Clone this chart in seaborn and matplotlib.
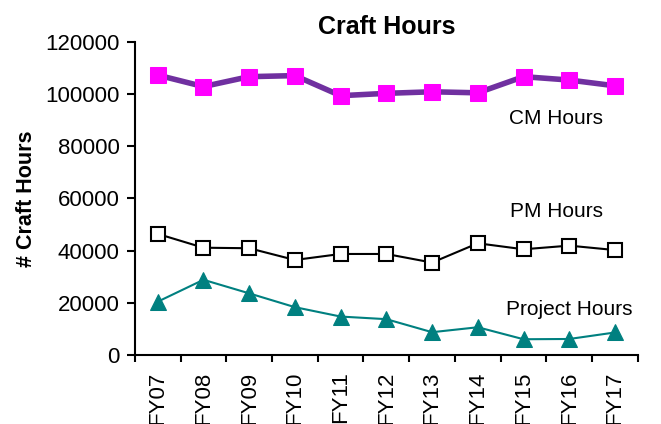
import numpy as np
import pandas as pd
import seaborn as sns
import matplotlib.pyplot as plt
from matplotlib.ticker import FixedLocator

# Dados
years = ["FY07", "FY08", "FY09", "FY10", "FY11", "FY12", "FY13", "FY14", "FY15", "FY16", "FY17"]
cm_hours = [107300, 102900, 106700, 107100, 99400, 100300, 100900, 100500, 106700, 105400, 103200]
pm_hours = [46400, 41100, 40900, 36400, 38700, 38700, 35400, 42800, 40500, 41900, 40200]
project_hours = [20400, 28800, 23600, 18300, 14700, 13700, 8700, 10600, 6000, 6100, 8600]

df = pd.DataFrame({"pos": np.arange(len(years)), "year": years,
                   "CM": cm_hours, "PM": pm_hours, "Project": project_hours})

sns.set_theme(style="white")
plt.rcParams['font.family'] = ['Liberation Sans', 'DejaVu Sans']
plt.rcParams['text.color'] = 'black'
plt.rcParams['axes.labelcolor'] = 'black'
plt.rcParams['xtick.color'] = 'black'
plt.rcParams['ytick.color'] = 'black'

fig = plt.figure(figsize=(6.61, 4.24), dpi=100)
ax = fig.add_axes([0.204, 0.163, 0.761, 0.738])

# Linhas das três séries
sns.lineplot(data=df, x="pos", y="CM", ax=ax, color="#7030A0", linewidth=4,
             marker="s", markersize=11, markerfacecolor="#FF00FF", markeredgecolor="#FF00FF")
sns.lineplot(data=df, x="pos", y="PM", ax=ax, color="black", linewidth=1.5,
             marker="s", markersize=10, markerfacecolor="white", markeredgecolor="black",
             markeredgewidth=1.5)
sns.lineplot(data=df, x="pos", y="Project", ax=ax, color="#008080", linewidth=1.5,
             marker="^", markersize=11, markerfacecolor="#008080", markeredgecolor="#008080")

# Rótulos das séries
ax.text(8.72, 90500, "CM Hours", fontsize=15, ha="center", va="center")
ax.text(8.72, 55000, "PM Hours", fontsize=15, ha="center", va="center")
ax.text(9.0, 17500, "Project Hours", fontsize=15, ha="center", va="center")

ax.set_xlim(-0.5, len(years) - 0.5)
ax.set_ylim(0, 120000)
ax.set_yticks(np.arange(0, 120001, 20000))
ax.set_xticks(df["pos"])
ax.set_xticklabels(years, rotation=90, fontsize=16)
ax.xaxis.set_minor_locator(FixedLocator(np.arange(-0.5, len(years), 1)))
ax.tick_params(axis="x", which="major", length=0, pad=12)
ax.tick_params(axis="x", which="minor", length=5, width=1.5, direction="out", bottom=True)
ax.tick_params(axis="y", length=6, width=1.5, direction="out", left=True, labelsize=16, pad=5)

ax.set_xlabel("")
ax.set_ylabel("# Craft Hours", fontsize=15.5, fontweight="bold", labelpad=6)
ax.set_title("Craft Hours", fontsize=18, fontweight="bold", pad=6)

for side in ["top", "right"]:
    ax.spines[side].set_visible(False)
for side in ["left", "bottom"]:
    ax.spines[side].set_color("black")
    ax.spines[side].set_linewidth(1.5)

fig.savefig("out.png", dpi=100)
